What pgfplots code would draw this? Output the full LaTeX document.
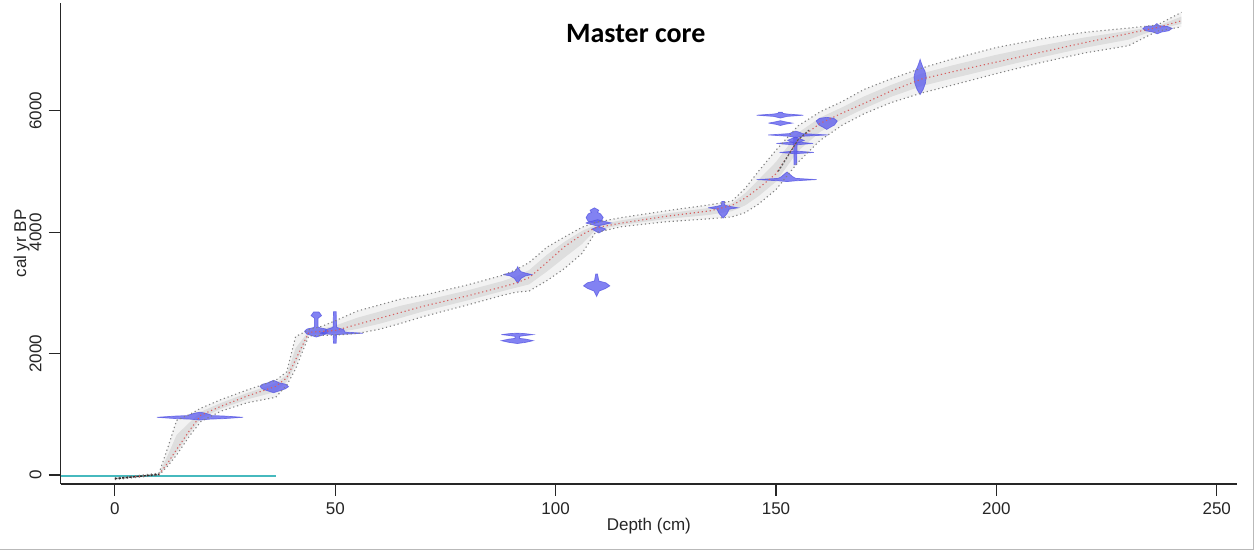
\documentclass[border=0pt]{standalone}
\usepackage{fontspec}
\setmainfont{Liberation Sans}
\newfontfamily\titlefont{Carlito}
\usepackage{pgfplots}
\usepackage{pgfplotstable}
\pgfplotsset{compat=1.18}

\definecolor{datefill}{RGB}{95,95,238}
\definecolor{dateedge}{RGB}{80,80,225}
\definecolor{meanred}{RGB}{215,95,95}
\definecolor{envgray}{RGB}{130,130,130}
\definecolor{surfcyan}{RGB}{70,185,190}

\pgfplotstableread{
d     mean   lo    up
0     -60   -75   -45
5     -25   -40   -10
10     10    -5    30
12    200   150   450
14    420   330   900
17    740   650  1000
19.5  985   880  1100
24   1130  1050  1240
30   1300  1190  1400
36.5 1460  1280  1560
39   1600  1480  1700
41   1900  1750  2280
44   2350  2290  2390
47   2365  2300  2450
50   2380  2305  2540
55   2480  2330  2700
60   2580  2400  2800
65   2680  2500  2900
70   2780  2610  2960
80   2950  2800  3130
88   3100  2960  3290
91   3160  3010  3380
94   3250  3030  3500
98   3500  3200  3750
102  3760  3400  3920
106  3960  3650  4080
109  4070  3990  4160
115  4150  4090  4240
125  4260  4170  4350
135  4350  4220  4450
140  4440  4250  4510
143  4560  4320  4720
146  4720  4460  5000
150  4960  4700  5350
155  5520  5150  5750
160  5790  5510  5980
165  5960  5760  6150
170  6120  5950  6350
176  6320  6130  6520
183  6520  6290  6700
190  6640  6420  6850
200  6800  6610  7040
210  6960  6790  7180
220  7120  6950  7290
230  7270  7070  7360
236.5 7370 7310  7410
242  7480  7380  7620
}\model

\pgfplotsset{
  datestyle/.style={fill=datefill, fill opacity=0.78, draw=dateedge, draw opacity=0.7, line width=0.35pt},
}

\begin{document}
\begin{tikzpicture}
\path[use as bounding box] (0,0) rectangle (627pt,275pt);
\draw[gray!55, line width=0.6pt] (626.6pt,0) -- (626.6pt,275pt);
\draw[gray!55, line width=0.6pt] (0,0.4pt) -- (627pt,0.4pt);
\begin{axis}[
  at={(30.35pt,33pt)}, anchor=south west,
  scale only axis, width=588.15pt, height=240.5pt,
  xmin=-12.3, xmax=254.6, ymin=-148, ymax=7773,
  axis x line=bottom, axis y line=left,
  axis line style={-, black!85, line width=0.55pt},
  xtick={0,50,100,150,200,250},
  ytick={0,2000,4000,6000},
  minor tick num=0,
  tick align=outside,
  major tick length=6pt,
  tick style={black!85, line width=0.55pt},
  /pgf/number format/assume math mode=true,
  /pgf/number format/1000 sep={},
  tick label style={font=\fontsize{8.5}{10}\selectfont, text=black!85},
  yticklabel style={rotate=90, anchor=south},
  xlabel={Depth (cm)},
  ylabel={cal yr BP},
  label style={font=\fontsize{8.5}{10}\selectfont, text=black!85},
  xlabel style={at={(axis description cs:0.5,-0.0873)}, anchor=center},
  ylabel style={at={(axis description cs:-0.0332,0.5)}, anchor=center},
  title={Master core},
  every axis title shift=0pt,
  title style={at={(axis description cs:0.4889,0.937)}, anchor=center, font=\titlefont\bfseries\fontsize{14}{16}\selectfont},
  no markers,
]
% grey band (outer: 95% range, inner: denser core)
\addplot[draw=none, fill=black!5] coordinates {(0,-45)(5,-10)(10,30)(12,450)(14,900)(17,1000)(19.5,1100)(24,1240)(30,1400)(36.5,1560)(39,1700)(41,2280)(44,2390)(47,2450)(50,2540)(55,2700)(60,2800)(65,2900)(70,2960)(80,3130)(88,3290)(91,3380)(94,3500)(98,3750)(102,3920)(106,4080)(109,4160)(115,4240)(125,4350)(135,4450)(140,4510)(143,4720)(146,5000)(150,5350)(155,5750)(160,5980)(165,6150)(170,6350)(176,6520)(183,6700)(190,6850)(200,7040)(210,7180)(220,7290)(230,7360)(236.5,7410)(242,7620)
(242,7380)(236.5,7310)(230,7070)(220,6950)(210,6790)(200,6610)(190,6420)(183,6290)(176,6130)(170,5950)(165,5760)(160,5510)(155,5150)(150,4700)(146,4460)(143,4320)(140,4250)(135,4220)(125,4170)(115,4090)(109,3990)(106,3650)(102,3400)(98,3200)(94,3030)(91,3010)(88,2960)(80,2800)(70,2610)(65,2500)(60,2400)(55,2330)(50,2305)(47,2300)(44,2290)(41,1750)(39,1480)(36.5,1280)(30,1190)(24,1050)(19.5,880)(17,650)(14,330)(12,150)(10,-5)(5,-40)(0,-75)};
\addplot[draw=none, fill=black!13] coordinates {(0,-52)(5,-18)(10,20)(12,325)(14,660)(17,870)(19.5,1042)(24,1185)(30,1350)(36.5,1510)(39,1650)(41,2090)(44,2370)(47,2408)(50,2460)(55,2590)(60,2690)(65,2790)(70,2870)(80,3040)(88,3195)(91,3270)(94,3375)(98,3625)(102,3840)(106,4020)(109,4115)(115,4195)(125,4305)(135,4400)(140,4475)(143,4640)(146,4860)(150,5155)(155,5635)(160,5885)(165,6055)(170,6235)(176,6420)(183,6610)(190,6745)(200,6920)(210,7070)(220,7205)(230,7315)(236.5,7390)(242,7550)
(242,7430)(236.5,7340)(230,7170)(220,7035)(210,6875)(200,6705)(190,6530)(183,6405)(176,6225)(170,6035)(165,5860)(160,5650)(155,5335)(150,4830)(146,4590)(143,4440)(140,4345)(135,4285)(125,4215)(115,4120)(109,4030)(106,3805)(102,3580)(98,3350)(94,3140)(91,3085)(88,3030)(80,2875)(70,2695)(65,2590)(60,2490)(55,2405)(50,2342)(47,2332)(44,2320)(41,1825)(39,1540)(36.5,1370)(30,1245)(24,1090)(19.5,932)(17,695)(14,375)(12,175)(10,2)(5,-32)(0,-68)};

% surface line
\addplot[surfcyan, line width=1pt] coordinates {(-12.3,-10) (36.5,-10)};

% calibrated dates
\addplot[datestyle] coordinates {(9.5,950) (14,928) (17,920) (19.3,905) (21.6,920) (24.6,928) (29.1,950) (24.6,972) (22,978) (21.6,995) (20.4,1020) (19.3,1035) (18.2,1020) (17,995) (16.6,978) (14,972) (9.5,950)};
\addplot[datestyle] coordinates {(32.9,1460) (33.4,1420) (34.5,1390) (36,1355) (37.5,1390) (38.7,1420) (39.4,1455) (38.8,1495) (37.4,1515) (36.5,1545) (36,1560) (35.5,1545) (34.6,1515) (33.5,1495) (32.9,1460)};
\addplot[datestyle] coordinates {(43.0,2365) (43.6,2320) (44.9,2290) (45.7,2272) (46.5,2290) (47.8,2320) (48.4,2365) (47.8,2405) (46.5,2425) (46.1,2440) (46.1,2580) (46.9,2625) (46.3,2685) (45.1,2685) (44.5,2625) (45.3,2580) (45.3,2440) (44.9,2425) (43.6,2405) (43.0,2365)};
\addplot[datestyle] coordinates {(46.5,2335) (49.5,2312) (49.6,2170) (50.2,2170) (50.3,2312) (56.3,2335) (52.2,2355) (51.9,2395) (50.6,2425) (50.3,2435) (50.2,2690) (49.6,2690) (49.5,2435) (49.2,2425) (47.9,2395) (47.6,2355) (46.5,2335)};
\addplot[datestyle] coordinates {(88.1,3300) (89.6,3280) (90.6,3240) (91.4,3160) (92.2,3240) (93.2,3280) (94.6,3300) (93.2,3325) (92.1,3350) (91.6,3400) (91.4,3430) (91.2,3400) (90.7,3350) (89.6,3325) (88.1,3300)};
\addplot[datestyle] coordinates {(87.7,2312) (89.5,2328) (91.3,2336) (93.1,2328) (94.9,2312) (93,2296) (91.8,2283) (91.8,2250) (93.2,2238) (94.9,2212) (93.2,2184) (91.3,2165) (89.4,2184) (87.7,2212) (89.4,2238) (90.8,2250) (90.8,2283) (89.6,2296) (87.7,2312)};
\addplot[datestyle] coordinates {(106.3,3115) (107.3,3070) (108.7,3030) (109.3,2940) (109.9,3030) (111.3,3070) (112.3,3115) (111.4,3165) (109.8,3195) (109.5,3310) (109.1,3310) (108.8,3195) (107.2,3165) (106.3,3115)};
\addplot[datestyle] coordinates {(106.9,4240) (107.4,4175) (108.8,4145) (110.3,4175) (110.8,4240) (110.2,4300) (109.5,4325) (109.8,4360) (108.8,4400) (107.8,4360) (108.1,4325) (107.4,4300) (106.9,4240)};
\addplot[datestyle] coordinates {(106.8,4150) (109.5,4100) (112.6,4150) (109.5,4205) (106.8,4150)};
\addplot[datestyle] coordinates {(108.2,4050) (109.8,3985) (111.4,4050) (109.8,4095) (108.2,4050)};
\addplot[datestyle] coordinates {(134.6,4400) (136.6,4378) (137.1,4305) (138,4230) (138.9,4305) (139.4,4378) (141.4,4400) (139.2,4428) (138.4,4445) (138.3,4505) (137.7,4505) (137.6,4445) (136.8,4428) (134.6,4400)};
\addplot[datestyle] coordinates {(145.6,5925) (149.5,5905) (150.6,5885) (151,5878) (151.4,5885) (152.5,5905) (156.2,5925) (152.5,5945) (151.6,5955) (151.4,5975) (150.6,5975) (150.4,5955) (149.5,5945) (145.6,5925)};
\addplot[datestyle] coordinates {(148.3,5795) (150,5775) (151,5755) (152,5775) (153.7,5795) (152,5818) (151,5835) (150,5818) (148.3,5795)};
\addplot[datestyle] coordinates {(148.2,5600) (153,5578) (154.5,5555) (156,5578) (161.8,5600) (156,5622) (155.2,5648) (154.5,5662) (153.8,5648) (153,5622) (148.2,5600)};
\addplot[datestyle] coordinates {(150.1,5460) (154.3,5435) (158.4,5460) (154.3,5488) (150.1,5460)};
\addplot[datestyle] coordinates {(150.8,5312) (154.3,5290) (158.6,5312) (154.3,5336) (150.8,5312)};
\addplot[datestyle] coordinates {(154.0,5560) (154.1,5110) (154.7,5110) (154.8,5560) (154.0,5560)};
\addplot[datestyle] coordinates {(152.6,5510) (154.4,5455) (156.4,5510) (154.4,5565) (152.6,5510)};
\addplot[datestyle] coordinates {(145.6,4865) (150.5,4845) (152.5,4832) (154.5,4845) (159.2,4865) (154.5,4885) (153.8,4912) (153.2,4950) (152.5,4990) (151.8,4950) (151.2,4912) (150.5,4885) (145.6,4865)};
\addplot[datestyle] coordinates {(159.1,5830) (159.7,5765) (160.8,5722) (161.5,5690) (162.2,5722) (163.3,5765) (163.9,5830) (163.1,5875) (161.5,5890) (159.9,5875) (159.1,5830)};
\addplot[datestyle] coordinates {(181.3,6550) (181.5,6450) (182.0,6350) (182.7,6265) (183.4,6350) (183.9,6450) (184.1,6550) (183.8,6650) (183.3,6720) (182.9,6800) (182.7,6845) (182.5,6800) (182.1,6720) (181.6,6650) (181.3,6550)};
\addplot[datestyle] coordinates {(233.2,7352) (233.9,7315) (235.5,7295) (236.5,7265) (237.5,7295) (239.1,7315) (239.9,7355) (238.7,7390) (237,7398) (236.4,7435) (235.8,7398) (234,7390) (233.2,7352)};

% envelope and mean
\addplot[envgray, line width=0.55pt, dash pattern=on 0.6pt off 1.4pt] table[x=d, y=lo] {\model};
\addplot[envgray, line width=0.55pt, dash pattern=on 0.6pt off 1.4pt] table[x=d, y=up] {\model};
\addplot[meanred, line width=0.55pt, dash pattern=on 0.6pt off 1.4pt] table[x=d, y=mean] {\model};
\addplot[black!80, line width=0.7pt, dash pattern=on 1.2pt off 0.6pt] coordinates {(0,-60) (5,-25) (10,10)};
\addplot[black!65, line width=0.6pt, dash pattern=on 1pt off 0.8pt] coordinates {(150.5,5000) (155,5520) (157.5,5680)};
\end{axis}
\end{tikzpicture}
\end{document}
